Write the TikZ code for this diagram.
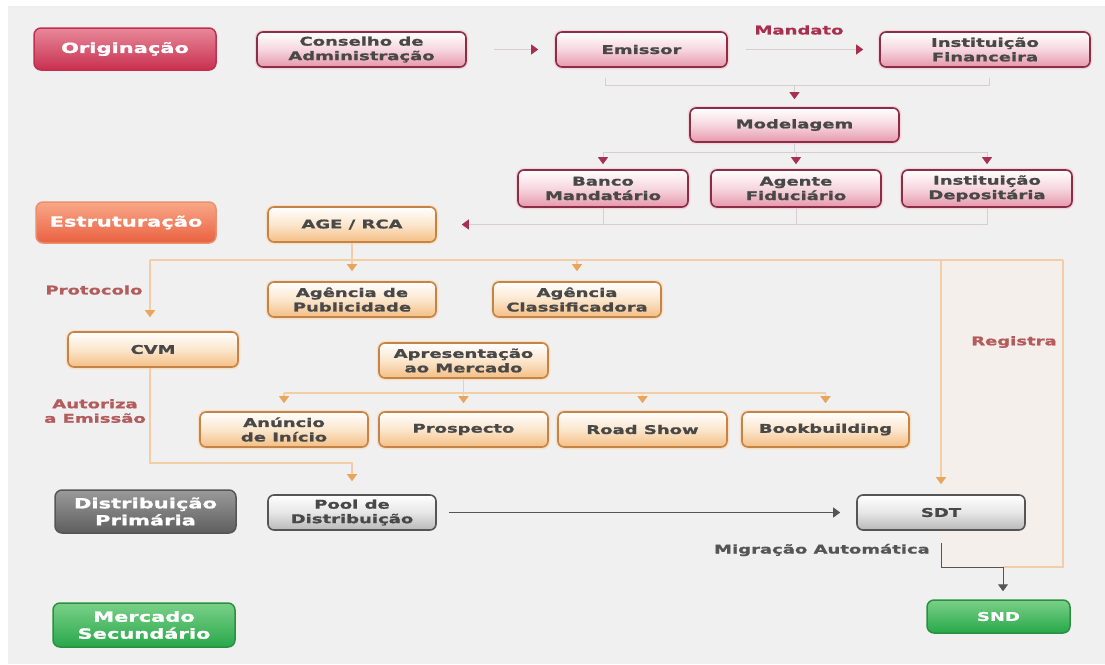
\documentclass[tikz,border=0pt]{standalone}
\usepackage{fontspec}
\newfontfamily\vfont{DejaVu Sans}[FakeStretch=1.5, BoldFeatures={FakeBold=1.2}]
\usetikzlibrary{arrows.meta}
\newcommand\nodefont{\vfont\bfseries\fontsize{12}{14.5}\selectfont}
\newcommand\catfont{\vfont\bfseries\fontsize{14}{17}\selectfont}
\definecolor{bg}{HTML}{F0F0F0}
\definecolor{pinkbd}{HTML}{8A2E48}
\definecolor{pinkbt}{HTML}{E698AC}
\definecolor{pinkmd}{HTML}{F6D6DE}
\definecolor{pinkhalo}{HTML}{F3D5DC}
\definecolor{orbd}{HTML}{C48448}
\definecolor{orbt}{HTML}{F4BE84}
\definecolor{ormd}{HTML}{FBE6CC}
\definecolor{orhalo}{HTML}{F8E0C8}
\definecolor{grbd}{HTML}{555555}
\definecolor{grbt}{HTML}{B8B8B8}
\definecolor{grmd}{HTML}{E6E6E6}
\definecolor{txt}{HTML}{484848}
\definecolor{crline}{HTML}{D8CDD0}
\definecolor{crtip}{HTML}{A8304F}
\definecolor{orline}{HTML}{F2CDA5}
\definecolor{ortip}{HTML}{E9A55C}
\definecolor{dk}{HTML}{555555}
\definecolor{labc}{HTML}{B45C5C}
\definecolor{mand}{HTML}{A8304F}
\definecolor{regfill}{HTML}{F5EFEB}
\definecolor{C03050}{HTML}{C03050}
\definecolor{E8889A}{HTML}{E8889A}
\definecolor{C8304F}{HTML}{C8304F}
\definecolor{E89070}{HTML}{E89070}
\definecolor{F8A888}{HTML}{F8A888}
\definecolor{EA6040}{HTML}{EA6040}
\definecolor{555555}{HTML}{555555}
\definecolor{9A9A9A}{HTML}{9A9A9A}
\definecolor{5E5E5E}{HTML}{5E5E5E}
\definecolor{2A9040}{HTML}{2A9040}
\definecolor{7AD088}{HTML}{7AD088}
\definecolor{28A84A}{HTML}{28A84A}
\tikzset{
  sz/.style 2 args={minimum width=#1pt, minimum height=#2pt},
  box/.style={rounded corners=6pt, line width=1.6pt, inner sep=0pt, align=center, font=\nodefont, text=txt},
  pinkbox/.style={box, preaction={draw=pinkhalo, line width=4.5pt}, draw=pinkbd, top color=white, bottom color=pinkbt, middle color=pinkmd},
  orbox/.style={box, preaction={draw=orhalo, line width=4.5pt}, draw=orbd, top color=white, bottom color=orbt, middle color=ormd},
  grbox/.style={box, draw=grbd, top color=white, bottom color=grbt, middle color=grmd},
  cat/.style={rounded corners=7pt, line width=1.5pt, inner sep=0pt, align=center, font=\catfont, text=white},
  origin/.style={cat, draw=C03050, top color=E8889A, bottom color=C8304F},
  estrut/.style={cat, draw=E89070, top color=F8A888, bottom color=EA6040},
  distr/.style={cat, draw=555555, top color=9A9A9A, bottom color=5E5E5E},
  merc/.style={cat, draw=2A9040, top color=7AD088, bottom color=28A84A},
  lite/.style={draw=crline, line width=1pt},
  crarrow/.style={lite, -{Triangle[width=10pt,length=7pt,color=crtip]}},
  orl/.style={draw=orline, line width=1.2pt},
  orarrow/.style={orl, -{Triangle[width=10pt,length=7pt,color=ortip]}},
  dkl/.style={draw=dk, line width=1pt},
  dkarrow/.style={dkl, -{Triangle[width=10pt,length=7pt,color=dk]}},
  lab/.style={font=\nodefont, text=labc, align=center, inner sep=0pt}
}
\begin{document}
\begin{tikzpicture}[x=1pt,y=-1pt]
\useasboundingbox (0,0) rectangle (1105,664);
\fill[white] (0,0) rectangle (1105,664);
\fill[bg] (8,6) rectangle (1105,664);
\fill[regfill] (940,260) rectangle (1063,567);

% category nodes
\node[origin, sz={182}{42}] (orig) at (125,49) {Originação};
\node[estrut, sz={180}{41}] (estr) at (126,222.5) {Estruturação};
\node[distr, sz={181}{43}] (dist) at (145.5,511.5) {Distribuição\\Primária};
\node[merc, sz={182}{44}] (merc) at (144,625) {Mercado\\Secundário};

% pink nodes
\node[pinkbox, sz={209}{35}] (cons) at (361.5,49.5) {Conselho de\\Administração};
\node[pinkbox, sz={171}{35}] (emissor) at (641.5,49.5) {Emissor};
\node[pinkbox, sz={210}{35}] (instfin) at (985,49.5) {Instituição\\Financeira};
\node[pinkbox, sz={209}{34}] (model) at (794.5,125) {Modelagem};
\node[pinkbox, sz={170}{37}] (banco) at (603,188.5) {Banco\\Mandatário};
\node[pinkbox, sz={170}{37}] (agente) at (796,188.5) {Agente\\Fiduciário};
\node[pinkbox, sz={170}{37}] (instdep) at (987,188.5) {Instituição\\Depositária};

% orange nodes
\node[orbox, sz={168}{35}] (age) at (352,224.5) {AGE / RCA};
\node[orbox, sz={168}{35}] (agpub) at (352,299.5) {Agência de\\Publicidade};
\node[orbox, sz={168}{35}] (agclass) at (577,299.5) {Agência\\Classificadora};
\node[orbox, sz={170}{35}] (cvm) at (153,349.5) {CVM};
\node[orbox, sz={169}{35}] (apres) at (463.5,360.5) {Apresentação\\ao Mercado};
\node[orbox, sz={168}{35}] (anun) at (284,429.5) {Anúncio\\de Início};
\node[orbox, sz={169}{35}] (prosp) at (463.5,429.5) {Prospecto};
\node[orbox, sz={169}{35}] (road) at (642.5,429.5) {Road Show};
\node[orbox, sz={167}{35}] (book) at (825.5,429.5) {Bookbuilding};

% gray / green nodes
\node[grbox, sz={168}{35}] (pool) at (352,512.5) {Pool de\\Distribuição};
\node[grbox, sz={168}{35}] (sdt) at (941,512.5) {SDT};
\node[merc, sz={143}{33}, font=\nodefont] (snd) at (998.5,616.5) {SND};

% labels
\node[lab, text=mand] (mandato) at (799,30) {Mandato};
\node[lab] (protocolo) at (94,290) {Protocolo};
\node[lab] (autoriza) at (95,411) {Autoriza\\a Emissão};
\node[lab] (registra) at (1014,342) {Registra};
\node[lab, text=dk, anchor=east] (migr) at (930,550) {Migração Automática};

% originação connectors
\draw[crarrow] ([xshift=27pt]cons.east) -- ([xshift=-17pt]emissor.west);
\draw[crarrow] ([xshift=18pt]emissor.east) -- ([xshift=-16pt]instfin.west);
\coordinate (bkl) at (605,85);
\coordinate (bkr) at (989,85);
\draw[lite] (605,78) -- (bkl) -- (bkr) -- (989,78);
\draw[crarrow, shorten >=8pt] (model.north |- bkl) -- (model.north);
\coordinate (bk2) at (0,152);
\draw[lite] (model.south) -- (model.south |- bk2);
\draw[lite] (banco.north |- bk2) -- (instdep.north |- bk2);
\foreach \n in {banco,agente,instdep}{
  \draw[crarrow, shorten >=5pt] (\n.north |- bk2) -- (\n.north);
}
\draw[lite] (banco.south) -- (banco.south |- age.east);
\draw[lite] (agente.south) -- (agente.south |- age.east);
\draw[crarrow, shorten >=25pt] (instdep.south) -- (instdep.south |- age.east) -- (age.east);

% estruturação connectors
\coordinate (oL) at (150,260);
\coordinate (oR) at (1063,260);
\coordinate (mj) at (1003,567);
\draw[orl] (oL) -- (oR);
\draw[orarrow, shorten >=10pt] (age.south) -- (agpub.north);
\draw[orarrow, shorten >=10pt] (agclass.north |- oL) -- (agclass.north);
\draw[orarrow, shorten >=14pt] (oL) -- (oL |- cvm.north);
\draw[orarrow, shorten >=10pt] (sdt.north |- oL) -- (sdt.north);
\draw[orl] (oR) -- (oR |- mj) -- (mj);
\coordinate (bk3) at (0,393);
\draw[orl] (apres.south) -- (apres.south |- bk3);
\draw[orl] (anun.north |- bk3) -- (book.north |- bk3);
\foreach \n in {anun,prosp,road,book}{
  \draw[orarrow, shorten >=8pt] (\n.north |- bk3) -- (\n.north);
}
\coordinate (cvmturn) at (150,463);
\draw[orarrow, shorten >=13pt] (oL |- cvm.south) -- (cvmturn) -| (pool.north);

% distribuição connectors
\draw[dkarrow] ([xshift=12pt]pool.east) -- ([xshift=-16pt]sdt.west);
\draw[dkl] ([yshift=-12pt]sdt.south) |- (mj);
\draw[dkarrow, shorten >=8pt] (mj) -- (mj |- snd.north);
\end{tikzpicture}
\end{document}
